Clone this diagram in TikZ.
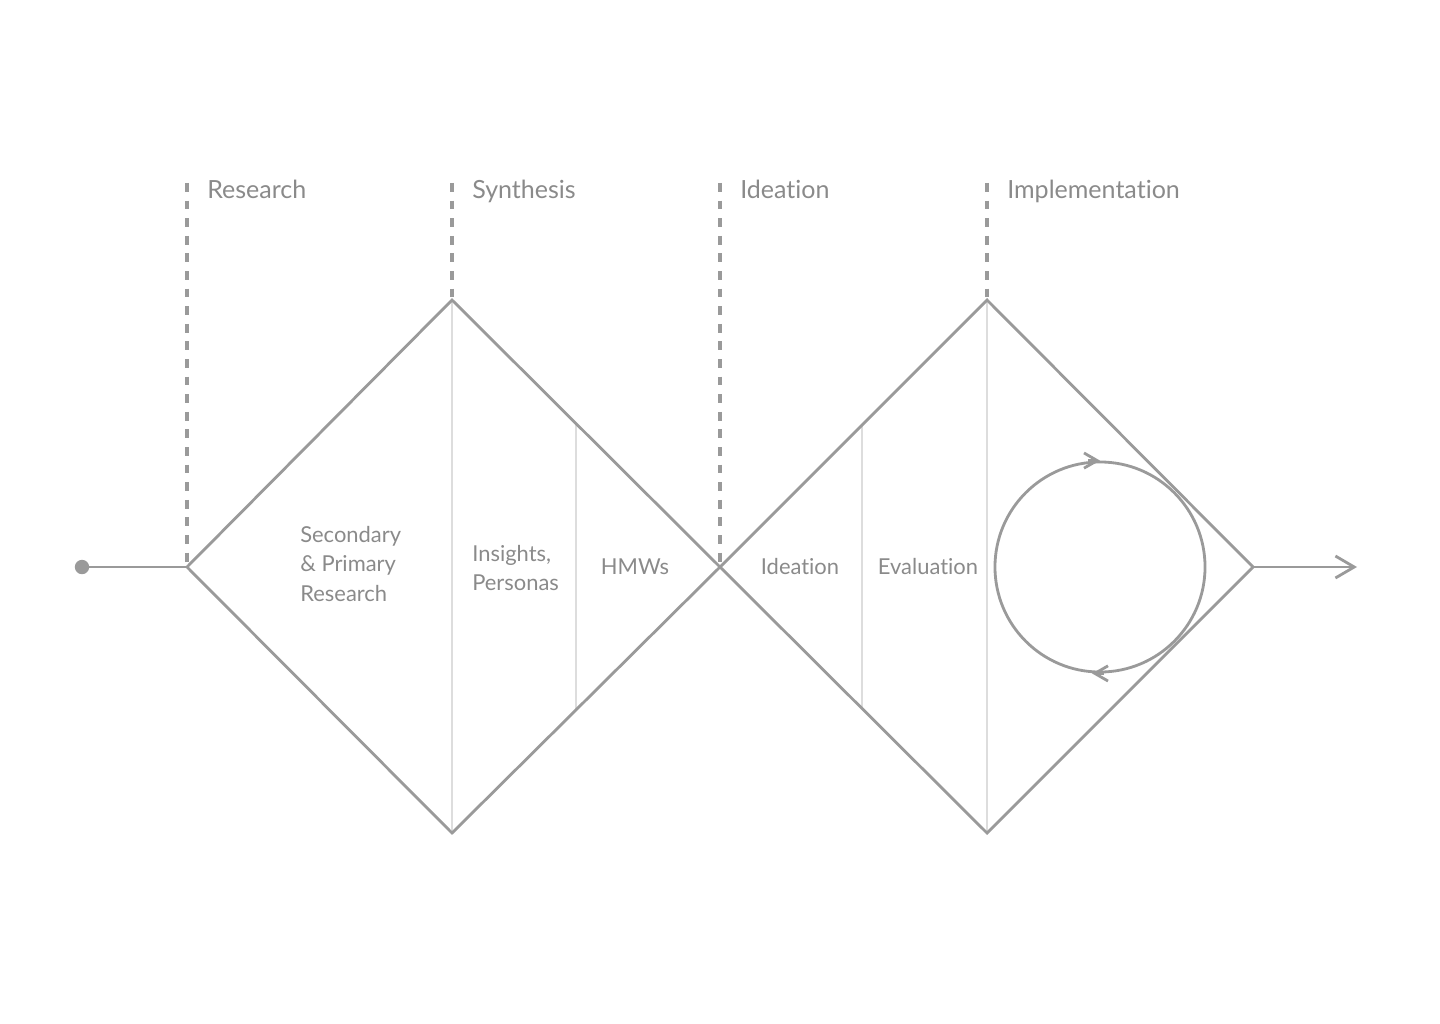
\documentclass[tikz,border=0pt]{standalone}
\usepackage{fontspec}
\setmainfont{Lato}[Ligatures=NoCommon]
\usetikzlibrary{arrows.meta,positioning}
\definecolor{dgLine}{HTML}{9A9A9A}
\definecolor{dgText}{HTML}{8A8A8A}
\definecolor{dgSep}{HTML}{DDDDDD}

\begin{document}
\begin{tikzpicture}[x=0.025cm, y=-0.025cm, font=\fontsize{15.6}{21.3}\selectfont,
  ln/.style={dgLine,line width=2pt},
  sepline/.style={dgSep,line width=0.8pt},
  dsh/.style={dgLine,line width=2.2pt,dash pattern=on 0.22cm off 0.22cm},
  phase/.style={dgText,anchor=base west,inner sep=0pt,font=\fontsize{17.8}{21}\selectfont},
  lbl/.style={dgText,align=left,inner sep=0pt},
  bigtip/.style={-{Straight Barb[length=0.47cm,width=0.55cm]}},
  smalltip/.style={-{Straight Barb[length=0.33cm,width=0.38cm]}}]
\useasboundingbox (0,0) rectangle (1440,1024);
\coordinate (l1) at (187,567);
\coordinate (t1) at (452,300);
\coordinate (b1) at (452,833);
\coordinate (m) at (720,567);
\coordinate (t2) at (987,300);
\coordinate (b2) at (987,833);
\coordinate (r2) at (1253,567);
\coordinate (end) at (1357,567);
\coordinate (s1t) at (576,424);
\coordinate (s1b) at (576,709);
\coordinate (s2t) at (862,425);
\coordinate (s2b) at (862,709);
\node[circle,fill=dgLine,inner sep=0pt,minimum size=0.36cm] (start) at (82,567) {};
\draw[sepline] (t1)--(b1);
\draw[sepline] (s1t)--(s1b);
\draw[sepline] (s2t)--(s2b);
\draw[sepline] (t2)--(b2);
\foreach \n/\x/\lo/\txt in {1/187/l1/Research,2/452/t1/Synthesis,3/720/m/Ideation,4/987/t2/Implementation}{
  \coordinate (d\n) at (\x,183);
  \draw[dsh] (d\n)--(\lo);
  \node[phase] (ph\n) at (\x+20,199) {\txt};
}
\draw[ln,line join=miter] (l1)--(t1)--(m)--(t2)--(r2)--(b2)--(m)--(b1)--cycle;
\draw[ln] (start)--(l1);
\draw[ln,bigtip] (r2)--(end);
\node[lbl,anchor=west] (res) at (300,564) {Secondary\\\& Primary\\Research};
\node[lbl,anchor=west] (ins) at (472,568) {Insights,\\Personas};
\node[lbl] (hmw) at (635,567) {HMWs};
\node[lbl] (ide) at (800,567) {Ideation};
\node[lbl] (eva) at (928,567) {Evaluation};
\node[circle,draw=dgLine,line width=2pt,inner sep=0pt,minimum size=5.25cm] (loop) at (1100,567) {};
\draw[ln,smalltip] ([xshift=-0.3cm]loop.north)--(loop.north);
\draw[ln,smalltip] ([xshift=0.1cm]loop.south)--([xshift=-0.2cm]loop.south);
\end{tikzpicture}
\end{document}
